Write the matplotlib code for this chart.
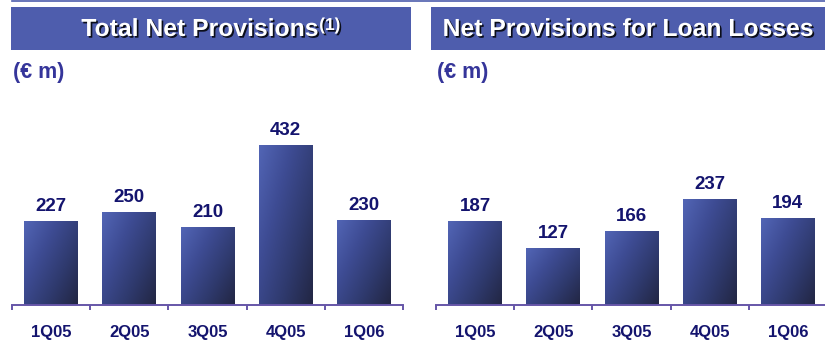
import numpy as np
import matplotlib
matplotlib.use("Agg")
import matplotlib.pyplot as plt
import matplotlib.patheffects as pe
from matplotlib.patches import Rectangle
from matplotlib.lines import Line2D
from matplotlib.colors import LinearSegmentedColormap

# ---- data -------------------------------------------------------------
quarters = ["1Q05", "2Q05", "3Q05", "4Q05", "1Q06"]
total_net_provisions = [227, 250, 210, 432, 230]
loan_loss_provisions = [187, 127, 166, 237, 194]

panel_titles = ["Total Net Provisions", "Net Provisions for Loan Losses"]
title_notes = ["(1)", ""]
unit_label = "(\u20ac m)"

# ---- styling ----------------------------------------------------------
plt.rcParams["font.family"] = ["Liberation Sans", "DejaVu Sans"]
HEADER_BLUE = "#4E5DAD"
AXIS_PURPLE = "#6656A8"
VALUE_NAVY = "#14146E"
UNIT_BLUE = "#35359A"
bar_cmap = LinearSegmentedColormap.from_list(
    "bar", ["#5265B5", "#3E4C94", "#2F3A6E", "#222643"])

W, H, DPI = 825, 340, 100
fig = plt.figure(figsize=(W / DPI, H / DPI), dpi=DPI)


def frac(x0, y0, x1, y1):
    """Pixel box (top-left origin) -> figure fraction [l, b, w, h]."""
    return [x0 / W, 1 - y1 / H, (x1 - x0) / W, (y1 - y0) / H]


# thin rule along the top edge
fig.add_artist(Line2D([12 / W, 1], [1 - 0.6 / H, 1 - 0.6 / H],
                      transform=fig.transFigure, color=HEADER_BLUE, lw=1.2))

# header bands
headers = [(11, 7, 411, 50), (431, 7, 825, 50)]
for (x0, y0, x1, y1) in headers:
    l, b, w, h = frac(x0, y0, x1, y1)
    fig.add_artist(Rectangle((l, b), w, h, transform=fig.transFigure,
                             facecolor=HEADER_BLUE, edgecolor="none"))

shadow = [pe.withSimplePatchShadow(offset=(1.2, -1.2), shadow_rgbFace="black",
                                   alpha=0.85)]
renderer = fig.canvas.get_renderer()
for (x0, y0, x1, y1), title, note in zip(headers, panel_titles, title_notes):
    t_main = fig.text(0, 1 - 36 / H, title, color="white", fontsize=17.8,
                      fontweight="bold", va="baseline", ha="left",
                      path_effects=shadow)
    parts = [t_main]
    if note:
        t_note = fig.text(0, 1 - 30 / H, note, color="white", fontsize=12.5,
                          fontweight="bold", va="baseline", ha="left",
                          path_effects=shadow)
        parts.append(t_note)
    widths = [p.get_window_extent(renderer).width for p in parts]
    total = sum(widths) + (1 if note else 0)
    start = (x0 + x1) / 2 - total / 2
    t_main.set_x(start / W)
    if note:
        parts[1].set_x((start + widths[0] + 1) / W)

# ---- bar panels -------------------------------------------------------
panels = [
    (total_net_provisions, (12, 100, 403, 305), 554),
    (loan_loss_provisions, (436, 100, 827, 305), 458.6),
]

u = np.linspace(0, 1, 64)
v = np.linspace(0, 1, 128)
U, V = np.meshgrid(u, v)
grad = np.clip((0.62 * U + 0.5 * V) / 1.12, 0, 1)

for values, box, ymax in panels:
    ax = fig.add_axes(frac(*box))
    x = np.arange(len(quarters))
    bars = ax.bar(x, values, width=0.69, color="none", edgecolor="none",
                  zorder=2)
    for rect in bars:
        bx, bw, bh = rect.get_x(), rect.get_width(), rect.get_height()
        im = ax.imshow(grad, cmap=bar_cmap, vmin=0, vmax=1, aspect="auto",
                       extent=(bx, bx + bw, 0, bh), origin="upper",
                       interpolation="bilinear", zorder=2)
        im.set_clip_path(rect)
    for xi, val in zip(x, values):
        ax.annotate(f"{val}", xy=(xi, val), xytext=(0, 10),
                    textcoords="offset pixels", ha="center", va="baseline",
                    fontsize=13.5, fontweight="bold", color=VALUE_NAVY)
        ax.annotate(quarters[xi], xy=(xi, 0), xytext=(0, -32),
                    textcoords="offset pixels", ha="center", va="baseline",
                    fontsize=12, fontweight="bold", color=VALUE_NAVY,
                    annotation_clip=False)

    ax.set_xlim(-0.5, len(quarters) - 0.5)
    ax.set_ylim(0, ymax)
    for side in ("left", "right", "top"):
        ax.spines[side].set_visible(False)
    ax.spines["bottom"].set_color(AXIS_PURPLE)
    ax.spines["bottom"].set_linewidth(1.4)
    ax.set_yticks([])
    ax.set_xticks(np.arange(-0.5, len(quarters)))
    ax.tick_params(axis="x", direction="out", length=3.8, width=1.4,
                   color=AXIS_PURPLE, labelbottom=False)
    ax.patch.set_visible(False)

    # unit caption above the plot area
    ax.annotate(unit_label, xy=(0, 1), xycoords="axes fraction",
                xytext=(1, 22), textcoords="offset pixels", ha="left",
                va="baseline", fontsize=15.5, fontweight="bold",
                color=UNIT_BLUE, annotation_clip=False)

fig.savefig("out.png", dpi=DPI)
